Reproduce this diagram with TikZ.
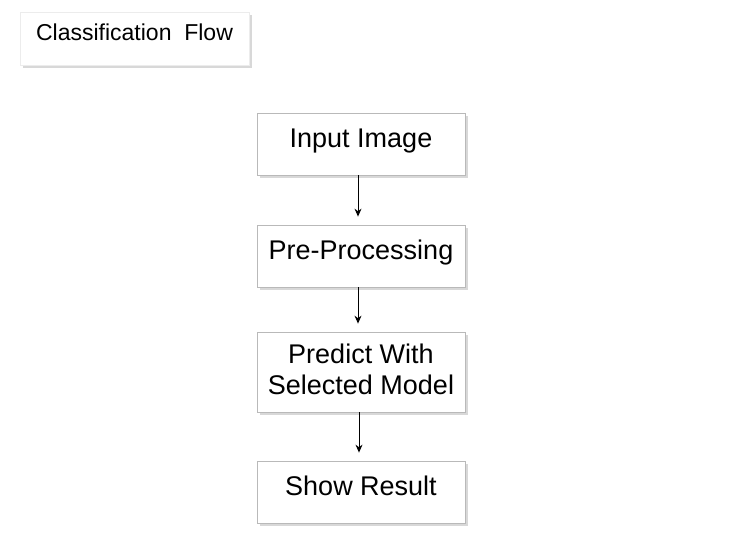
\documentclass[tikz,border=0pt]{standalone}
\usepackage{fontspec}
\setmainfont{Liberation Sans}
\usepackage{tikz}
\usetikzlibrary{positioning}
\usetikzlibrary{arrows.meta}
\usetikzlibrary{shadows}
\tikzset{flowbox/.style={rectangle,draw=gray!55,line width=0.8pt,fill=white,
drop shadow={shadow xshift=3pt,shadow yshift=-3pt,fill=gray!60},
inner sep=2pt,minimum height=62pt,minimum width=208pt,align=center,
text height=20pt,text depth=14pt,
font=\fontsize{27}{31}\selectfont}}
\tikzset{titlebox/.style={rectangle,draw=gray!15,line width=0.5pt,fill=white,
drop shadow={shadow xshift=3pt,shadow yshift=-3pt,fill=gray!60},
inner sep=2pt,minimum height=53pt,minimum width=229pt,
text height=16pt,text depth=11pt,
font=\fontsize{23}{26}\selectfont}}
\tikzset{flowstep/.style={line width=1pt,-{Stealth[length=8pt,width=7pt]},shorten >=8pt}}

\begin{document}
\begin{tikzpicture}
        \useasboundingbox[fill=white] (0,0) rectangle (752pt,-559pt);

        \node[titlebox] (title) at (134.5pt,-38.5pt) {Classification\ \ Flow};

        \node[flowbox] (input) at (361pt,-144pt) {Input Image};
        \node[flowbox] (prep) at (361pt,-256pt) {Pre-Processing};
        \node[flowbox,minimum height=80pt,text height=51pt,text depth=7pt] (predict) at (361pt,-372pt) {Predict With\\Selected Model};
        \node[flowbox] (result) at (361pt,-492pt) {Show Result};

        \draw [flowstep] ([xshift=-3pt]input.south) -- ([xshift=-3pt]prep.north);
        \draw [flowstep] ([xshift=-3pt]prep.south) -- ([xshift=-3pt]predict.north);
        \draw [flowstep] ([xshift=-2pt]predict.south) -- ([xshift=-2pt]result.north);

    \end{tikzpicture}
\end{document}
